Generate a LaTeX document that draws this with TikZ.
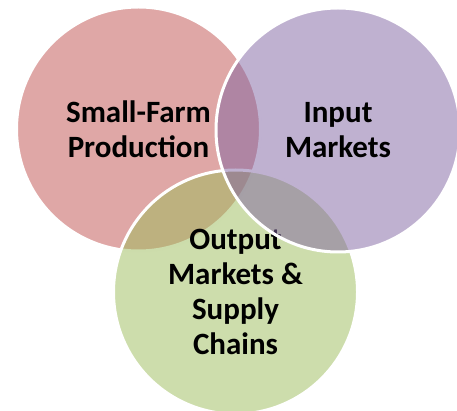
\documentclass[tikz,border=0pt]{standalone}
\usepackage{fontspec}
\setmainfont{Carlito}
\definecolor{cred}{HTML}{C0504D}
\definecolor{cgreen}{HTML}{9BBB59}
\definecolor{cpurple}{HTML}{8064A2}
\begin{document}
\begin{tikzpicture}[x=1pt,y=-1pt,
  venn/.style={circle, draw=white, line width=3pt, minimum size=244pt, inner sep=0pt,
    fill opacity=0.5, draw opacity=1, text opacity=1, align=center, text=black,
    font=\bfseries\fontsize{31}{35}\selectfont}]
\useasboundingbox (0,0) rectangle (457,411);
\node[venn, fill=cred] (prod) at (138.5,129) {Small-Farm\\Production};
\node[venn, fill=cgreen] (out) at (235.5,292) {Output\\Markets \&\\Supply\\Chains};
\node[venn, fill=cpurple] (inp) at (338,130) {Input\\Markets};
\end{tikzpicture}
\end{document}
